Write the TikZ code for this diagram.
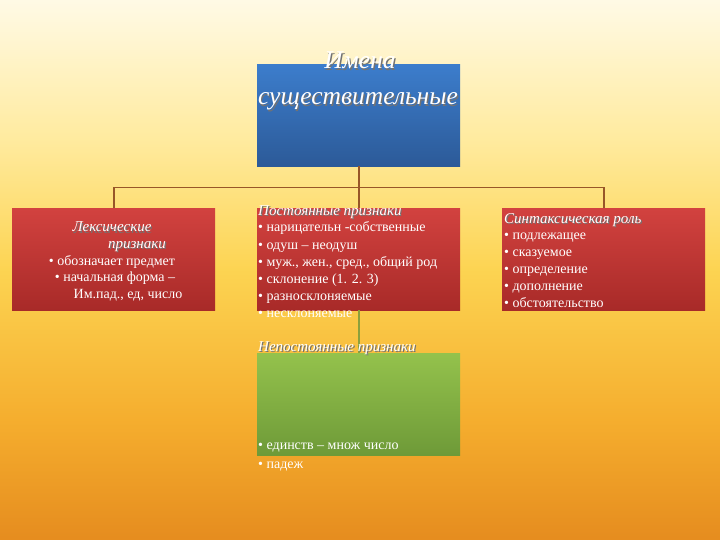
\documentclass[tikz,border=0pt]{standalone}
\usepackage{fontspec}
\setmainfont{Liberation Serif}
\usetikzlibrary{positioning}

\definecolor{bluetop}{RGB}{60,125,204}
\definecolor{bluebot}{RGB}{44,90,152}
\definecolor{redtop}{RGB}{210,66,63}
\definecolor{redbot}{RGB}{168,42,40}
\definecolor{greentop}{RGB}{148,194,76}
\definecolor{greenbot}{RGB}{110,154,56}
\definecolor{brn}{RGB}{152,86,40}
\definecolor{olive}{RGB}{140,160,60}

% background: cream at the top, yellow, orange at the bottom
\pgfdeclareverticalshading{slidebg}{100bp}{%
  rgb(0bp)=(0.90,0.55,0.12); rgb(25bp)=(0.90,0.55,0.12);
  rgb(36bp)=(0.96,0.68,0.18); rgb(50bp)=(0.99,0.83,0.32);
  rgb(62bp)=(1,0.92,0.62); rgb(75bp)=(1,0.98,0.9); rgb(100bp)=(1,0.98,0.9)}

\newcommand\shd[1]{\makebox[0pt][l]{\hspace{1.2pt}\raisebox{-1.2pt}{\textcolor{black!55}{#1}}}#1}

\tikzset{
  box/.style={minimum width=203pt, minimum height=102pt, inner sep=0pt, anchor=north west},
  redbox/.style={box, top color=redtop, bottom color=redbot},
  txt/.style={text=white, font=\fontsize{14}{16}\selectfont, inner sep=0pt, anchor=base west},
  head/.style={txt, font=\fontsize{15}{17}\selectfont\itshape},
  ttl/.style={txt, anchor=base, font=\fontsize{25.5}{28}\selectfont\itshape},
  link/.style={draw=brn, line width=1.6pt}
}

\begin{document}
\begin{tikzpicture}[x=1pt,y=-1pt]
\useasboundingbox (0,0) rectangle (720,540);
\shade[shading=slidebg] (0,0) rectangle (720,540);

% boxes
\node[box, top color=bluetop, bottom color=bluebot] (top) at (257,64) {};
\node[redbox] (lex) at (12,208) {};
\node[redbox] (post) at (257,208) {};
\node[redbox] (synt) at (502,208) {};
\node[box, top color=greentop, bottom color=greenbot] (nepost) at (257,353) {};

% connectors
\draw[link] (top.south) -- ++(0,21) coordinate (fork);
\draw[link] (lex.north) |- (fork) -| (synt.north);
\draw[link] (fork) -- (post.north);
\draw[draw=olive, line width=1.6pt] (post.south) -- (nepost.north);

% title
\node[ttl] (t1) at (360,69) {\shd{Имена}};
\node[ttl] (t2) at (358,105) {\shd{существительные}};

% left box
\node[head, anchor=base] (l1) at (112,232) {\shd{Лексические}};
\node[head, anchor=base] (l2) at (137,248) {\shd{признаки}};
\node[txt, anchor=base] (l3) at (112,265) {• обозначает предмет};
\node[txt, anchor=base] (l4) at (115,281) {• начальная форма –};
\node[txt, anchor=base] (l5) at (128,298) {Им.пад., ед, число};

% middle box
\node[head] (ph) at (258,215) {\shd{Постоянные признаки}};
\foreach \t [count=\i] in {нарицательн -собственные, одуш – неодуш,
    {муж., жен., сред., общий род}, склонение (1. 2. 3), разносклоняемые, несклоняемые}
  \node[txt] (p\i) at (258,215+17*\i) {• \t};

% right box
\node[head] (sh) at (504,223) {\shd{Синтаксическая роль}};
\foreach \t [count=\i] in {подлежащее, сказуемое, определение, дополнение, обстоятельство}
  \node[txt] (s\i) at (504,223+16.8*\i) {• \t};

% green box
\node[head] (nh) at (258,351) {\shd{Непостоянные признаки}};
\node[txt] (n1) at (258,449) {• единств – множ число};
\node[txt] (n2) at (258,468) {• падеж};
\end{tikzpicture}
\end{document}
